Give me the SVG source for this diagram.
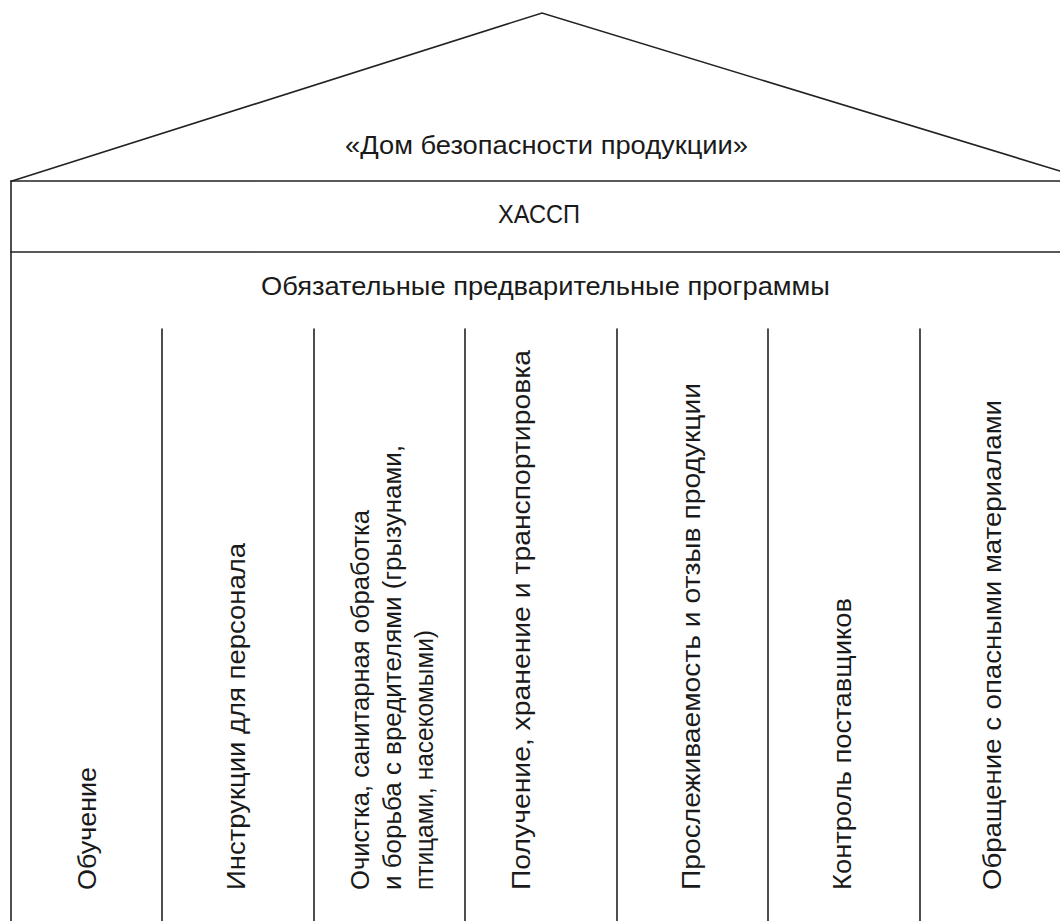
<svg xmlns="http://www.w3.org/2000/svg" width="1060" height="921" viewBox="0 0 1060 921">
<style>
.ln{stroke:#222;stroke-width:1.6;fill:none;stroke-linecap:round}
.t{font-family:"Liberation Sans",Arial,sans-serif;font-size:26.5px;fill:#1a1a1a}
.c{text-anchor:middle}
</style>
<rect width="1060" height="921" fill="#fff"/>
<g id="connectors">
<polyline class="ln" points="12,181 542,13 1060,171"/>
<line class="ln" x1="11" y1="181" x2="1060" y2="181"/>
<line class="ln" x1="11" y1="252" x2="1060" y2="252"/>
<line class="ln" x1="11" y1="181" x2="11" y2="921"/>
<line class="ln" x1="162" y1="329" x2="162" y2="921"/>
<line class="ln" x1="314" y1="329" x2="314" y2="921"/>
<line class="ln" x1="465" y1="329" x2="465" y2="921"/>
<line class="ln" x1="617" y1="329" x2="617" y2="921"/>
<line class="ln" x1="768" y1="329" x2="768" y2="921"/>
<line class="ln" x1="920" y1="329" x2="920" y2="921"/>
</g>
<g id="roof"><text class="t" x="345" y="154" font-size="23.5" textLength="403" lengthAdjust="spacingAndGlyphs">«Дом безопасности продукции»</text></g>
<g id="haccp"><text class="t" x="498" y="223" font-size="23" textLength="82" lengthAdjust="spacingAndGlyphs">ХАССП</text></g>
<g id="prp"><text class="t" x="261" y="295" textLength="569" lengthAdjust="spacingAndGlyphs">Обязательные предварительные программы</text></g>
<g id="col1"><text class="t" transform="translate(96,890) rotate(-90)" textLength="123" lengthAdjust="spacingAndGlyphs">Обучение</text></g>
<g id="col2"><text class="t" transform="translate(245,890) rotate(-90)" textLength="347" lengthAdjust="spacingAndGlyphs">Инструкции для персонала</text></g>
<g id="col3">
<text class="t" transform="translate(369,890) rotate(-90)" textLength="380" lengthAdjust="spacingAndGlyphs">Очистка, санитарная обработка</text>
<text class="t" transform="translate(401,890) rotate(-90)" textLength="445" lengthAdjust="spacingAndGlyphs">и борьба с вредителями (грызунами,</text>
<text class="t" transform="translate(433,890) rotate(-90)" textLength="260" lengthAdjust="spacingAndGlyphs">птицами, насекомыми)</text>
</g>
<g id="col4"><text class="t" transform="translate(530,890) rotate(-90)" textLength="540" lengthAdjust="spacingAndGlyphs">Получение, хранение и транспортировка</text></g>
<g id="col5"><text class="t" transform="translate(700,890) rotate(-90)" textLength="507" lengthAdjust="spacingAndGlyphs">Прослеживаемость и отзыв продукции</text></g>
<g id="col6"><text class="t" transform="translate(851,890) rotate(-90)" textLength="292" lengthAdjust="spacingAndGlyphs">Контроль поставщиков</text></g>
<g id="col7"><text class="t" transform="translate(1001,890) rotate(-90)" textLength="490" lengthAdjust="spacingAndGlyphs">Обращение с опасными материалами</text></g>
</svg>
